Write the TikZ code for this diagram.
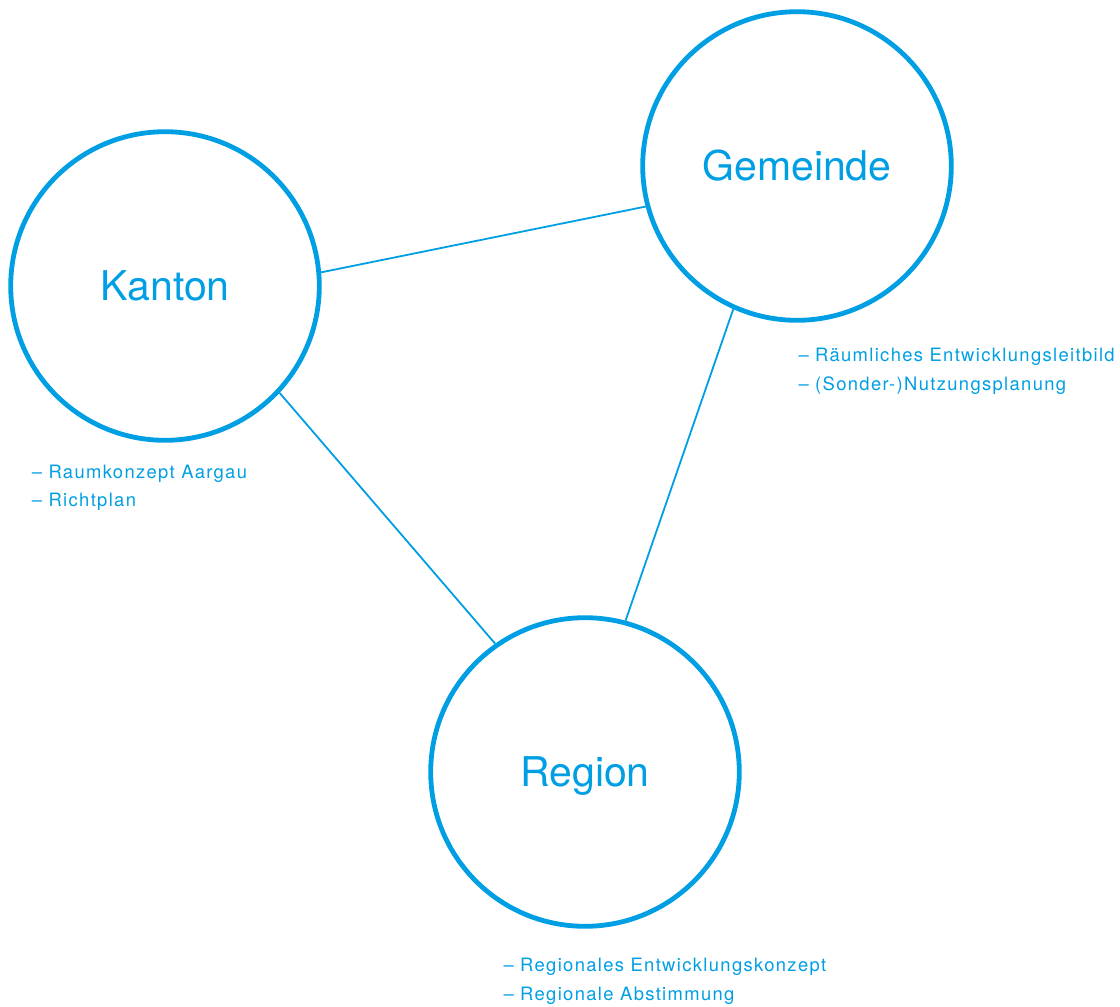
\documentclass[tikz,border=0pt]{standalone}
\usepackage{fontspec}
\setmainfont{TeX Gyre Heros}
\newfontfamily\smallfont[LetterSpace=7.3]{TeX Gyre Heros}
\definecolor{ablue}{RGB}{0,159,227}
\begin{document}
\begin{tikzpicture}[x=1pt,y=-1pt,
  ring/.style={circle, draw=ablue, line width=4.8pt, minimum size=308.6pt, inner sep=0pt,
    text=ablue, font=\fontsize{41}{41}\selectfont, text height=29.5pt, text depth=0pt},
  link/.style={draw=ablue, line width=1.8pt},
  item/.style={anchor=base west, inner sep=0pt, text=ablue, font=\smallfont\fontsize{18.4}{22}\selectfont}]
\useasboundingbox (0,0) rectangle (1120,1007);
\node[ring] (kanton) at (165,286) {Kanton};
\node[ring] (gemeinde) at (797,166) {Gemeinde};
\node[ring] (region) at (585,772) {Region};
\draw[link] (kanton.5.8) -- (gemeinde.195.6);
\draw[link] (kanton.-43.9) -- (region.125.3);
\draw[link] (gemeinde.246.4) -- (region.75.2);
\node[item] (k1) at (31.7,478) {– Raumkonzept Aargau};
\node[item] (k2) at (31.7,506.5) {– Richtplan};
\node[item] (g1) at (798.3,361.7) {– Räumliches Entwicklungsleitbild};
\node[item] (g2) at (798.3,390.2) {– (Sonder-)Nutzungsplanung};
\node[item] (r1) at (503.3,971.7) {– Regionales Entwicklungskonzept};
\node[item] (r2) at (503.3,1000.2) {– Regionale Abstimmung};
\end{tikzpicture}
\end{document}
